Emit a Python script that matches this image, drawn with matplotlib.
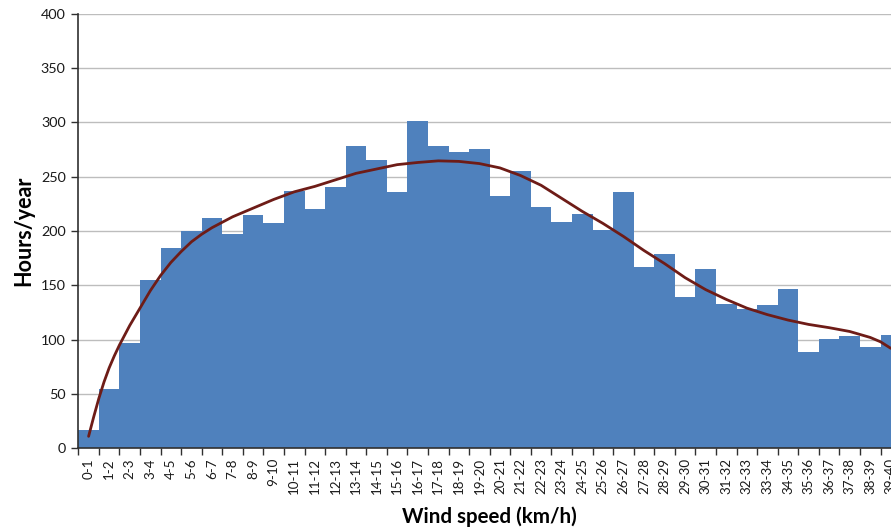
import matplotlib
matplotlib.use("Agg")
import matplotlib.pyplot as plt
import numpy as np

plt.rcParams['font.family'] = ['Lato', 'DejaVu Sans']

categories = [f"{i}-{i+1}" for i in range(40)]
hours = [17, 55, 97, 155, 184, 200, 212, 197, 215, 207,
         237, 220, 240, 278, 265, 236, 301, 278, 273, 275,
         232, 255, 222, 208, 216, 201, 236, 167, 179, 139,
         165, 133, 128, 132, 147, 89, 101, 103, 93, 104]

# fitted trend curve (x in category units)
curve_x = [0.5, 0.75, 1.0, 1.25, 1.5, 1.75, 2.0, 2.5, 3.0, 3.5, 4.0, 4.5,
           5.0, 5.5, 6.0, 6.5, 7.0, 7.5, 8.5, 9.5, 10.5, 11.5, 12.5, 13.5,
           14.5, 15.5, 16.5, 17.5, 18.5, 19.5, 20.5, 21.5, 22.5, 23.5,
           24.5, 25.5, 26.5, 27.5, 28.5, 29.5, 30.5, 31.5, 32.5, 33.5,
           34.5, 35.5, 36.5, 37.5, 38.5, 39.0, 39.5]
curve_y = [11, 29, 46, 61, 74, 85, 95, 113, 129, 145, 159, 171,
           181, 190, 197, 203, 208, 213, 221, 229, 236, 241, 247, 253,
           257, 261, 263, 264.5, 264, 262, 258, 251, 242, 230,
           218, 207, 195, 182, 170, 157, 146, 137, 129, 123,
           118, 114, 111, 107.5, 102, 98, 92]

W, H = 891, 529
fig = plt.figure(figsize=(W / 100, H / 100), dpi=100)
left = 78.3 / W
bottom = (H - 448.3) / H
width = 822.8 / W
height = 434.7 / H
ax = fig.add_axes([left, bottom, width, height])

pos = np.arange(len(categories))
ax.bar(pos + 0.5, hours, width=1.0, color='#4F81BD', edgecolor='none', zorder=2)
ax.plot(curve_x, curve_y, color='#6E1C17', lw=2.0, zorder=3,
        solid_capstyle='round', solid_joinstyle='round')

ax.set_xlim(0, 40)
ax.set_ylim(0, 400)
ax.set_yticks(np.arange(0, 401, 50))
ax.yaxis.grid(True, color='#BDBDBD', lw=1.0, zorder=0)
ax.set_axisbelow(True)

ax.set_xticks(np.arange(0, 41), labels=[])
ax.set_xticks(pos + 0.5, labels=categories, minor=True)
ax.tick_params(axis='x', which='major', length=5, width=1.0, color='#303030')
ax.tick_params(axis='x', which='minor', length=0, pad=7, labelsize=9.6,
               labelrotation=90, labelcolor='#1a1a1a')
ax.tick_params(axis='y', length=5, width=1.0, color='#303030', labelsize=10.4,
               labelcolor='#1a1a1a', pad=4)

for s in ['top', 'right']:
    ax.spines[s].set_visible(False)
for s in ['left', 'bottom']:
    ax.spines[s].set_color('#303030')
    ax.spines[s].set_linewidth(1.2)

ax.set_ylabel('Hours/year', fontsize=15.5, fontweight='bold', labelpad=5)
ax.set_xlabel('Wind speed (km/h)', fontsize=14.8, fontweight='bold', labelpad=9)

fig.savefig('out.png', dpi=100)
